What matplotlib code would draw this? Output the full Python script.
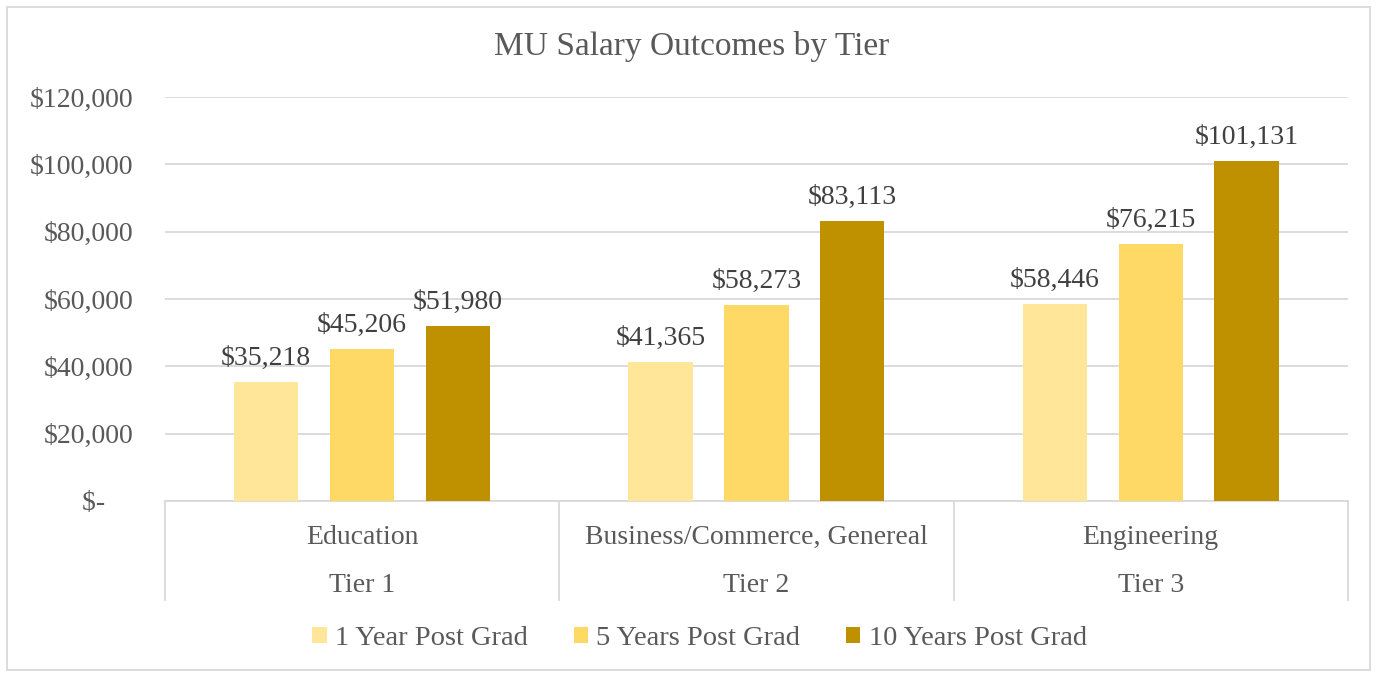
import numpy as np
import matplotlib.pyplot as plt
from matplotlib.patches import Rectangle
from matplotlib.ticker import FuncFormatter

plt.rcParams['font.family'] = ['Liberation Serif', 'DejaVu Serif']

categories = ['Education', 'Business/Commerce, Genereal', 'Engineering']
tiers = ['Tier 1', 'Tier 2', 'Tier 3']
series_names = ['1 Year Post Grad', '5 Years Post Grad', '10 Years Post Grad']
one_year = [35218, 41365, 58446]
five_years = [45206, 58273, 76215]
ten_years = [51980, 83113, 101131]
colors = ['#FFE699', '#FFD966', '#BF9000']


def money(v, pos=None):
    if v == 0:
        return '$-    '
    return '${:,.0f}'.format(v)


fig = plt.figure(figsize=(13.77, 6.77), dpi=100)
ax = fig.add_axes([0.1198, 0.260, 0.859, 0.5967])

x = np.arange(len(categories))
offsets = [-0.243, 0.0, 0.243]
width = 0.163
for vals, off, col, name in zip([one_year, five_years, ten_years], offsets, colors, series_names):
    bars = ax.bar(x + off, vals, width, color=col, label=name, zorder=3)
    for b, v in zip(bars, vals):
        ax.annotate(money(v), (b.get_x() + b.get_width() / 2, v),
                    xytext=(0, 8), textcoords='offset points',
                    ha='center', va='bottom', fontsize=20, color='#404040')

ax.set_xlim(-0.5, 2.5)
ax.set_ylim(0, 120000)
ax.set_yticks(np.arange(0, 120001, 20000))
ax.yaxis.set_major_formatter(FuncFormatter(money))
ax.grid(axis='y', color='#d9d9d9', linewidth=1.3, zorder=0)
for s in ['top', 'right', 'left']:
    ax.spines[s].set_visible(False)
ax.spines['bottom'].set_color('#d9d9d9')
ax.spines['bottom'].set_linewidth(1.3)
ax.tick_params(axis='y', length=0, labelsize=20, labelcolor='#595959', pad=23)
ax.set_xticks([])

# category boxes below the axis
trans = ax.get_xaxis_transform()
for edge in np.arange(-0.5, 2.6, 1.0):
    ax.plot([edge, edge], [0, -0.245], transform=trans, color='#d9d9d9',
            linewidth=1.3, clip_on=False)
for xi, cat, tier in zip(x, categories, tiers):
    ax.text(xi, -0.09, cat, transform=trans, ha='center', va='center',
            fontsize=20, color='#595959')
    ax.text(xi, -0.21, tier, transform=trans, ha='center', va='center',
            fontsize=20, color='#595959')

fig.text(0.502, 0.932, 'MU Salary Outcomes by Tier', ha='center', va='center',
         fontsize=24, color='#595959')

leg = fig.legend(loc='center', bbox_to_anchor=(0.508, 0.057), ncol=3, frameon=False,
                 fontsize=20.5, handlelength=0.5, handleheight=0.5, handletextpad=0.3,
                 columnspacing=1.6, labelcolor='#595959')

fig.patches.append(Rectangle((0.005, 0.01), 0.99, 0.98, transform=fig.transFigure,
                             fill=False, edgecolor='#d9d9d9', linewidth=1.3))

fig.savefig('out.png', dpi=100)
